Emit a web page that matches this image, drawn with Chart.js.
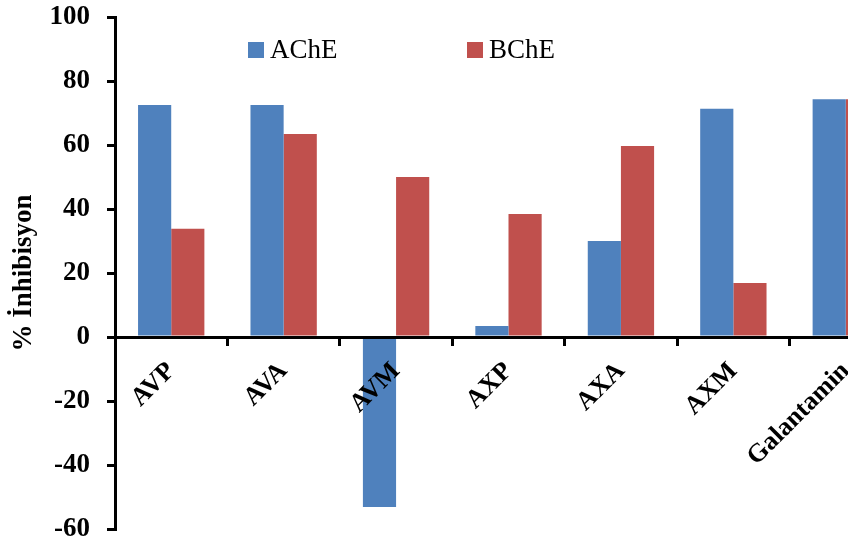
<!DOCTYPE html>
<html>
<head>
<meta charset="utf-8">
<script src="https://cdn.jsdelivr.net/npm/chart.js@4.4.0/dist/chart.umd.min.js"></script>
<style>
  html, body { margin: 0; padding: 0; background: #fff; overflow: hidden; }
  #wrap { width: 848px; height: 545px; overflow: hidden; position: relative; }
  #c { display: block; }
</style>
</head>
<body>
<div id="wrap"><canvas id="c" width="920" height="545"></canvas></div>
<script>
// Compounds and % inhibition of AChE / BChE
const categories = ['AVP', 'AVA', 'AVM', 'AXP', 'AXA', 'AXM', 'Galantamin'];
const acheValues = [72.5, 72.5, -53.1, 3.4, 30.0, 71.3, 74.3];
const bcheValues = [33.8, 63.4, 50.0, 38.4, 59.7, 16.9, 74.3];
const yTicks = [-60, -40, -20, 0, 20, 40, 60, 80, 100];
const yTitle = '% İnhibisyon';

const BLUE = '#4F81BD';
const RED = '#C0504D';
const SERIF = "'Liberation Serif', 'Times New Roman', serif";

// Legend drawn inside the plot area, two items on one row
const innerLegend = {
  id: 'innerLegend',
  afterDraw(chart) {
    const ctx = chart.ctx;
    const area = chart.chartArea;
    const offsets = [133, 352];
    ctx.save();
    ctx.font = '27px ' + SERIF;
    ctx.textBaseline = 'middle';
    ctx.textAlign = 'left';
    chart.data.datasets.forEach((ds, i) => {
      const x = area.left + offsets[i];
      const y = 50;
      ctx.fillStyle = ds.backgroundColor;
      ctx.fillRect(x, y - 8, 16, 16);
      ctx.fillStyle = '#000';
      ctx.fillText(ds.label, x + 22, y + 1);
    });
    ctx.restore();
  }
};

new Chart(document.getElementById('c'), {
  type: 'bar',
  data: {
    labels: categories,
    datasets: [
      { label: 'AChE', data: acheValues, backgroundColor: BLUE },
      { label: 'BChE', data: bcheValues, backgroundColor: RED }
    ]
  },
  options: {
    responsive: false,
    animation: false,
    layout: { padding: { left: 0, right: 18, top: 17, bottom: 16 } },
    datasets: { bar: { categoryPercentage: 0.59, barPercentage: 1.0 } },
    plugins: { legend: { display: false }, tooltip: { enabled: false } },
    scales: {
      x: {
        position: { y: 0 },
        grid: { display: true, offset: true, drawOnChartArea: false, drawTicks: true,
                tickLength: 7, color: '#000', lineWidth: 3, z: 1 },
        border: { display: true, color: '#000', width: 3, z: 1 },
        ticks: {
          z: 1,
          autoSkip: false, minRotation: 45, maxRotation: 45, padding: 12,
          color: '#000', font: { family: SERIF, size: 26, weight: 'bold' }
        }
      },
      y: {
        min: -60, max: 100,
        afterFit(scale) {
          scale.width = 115;
          scale.paddingTop = 0;
          scale.paddingBottom = 0;
        },
        afterBuildTicks(scale) { scale.ticks = yTicks.map(v => ({ value: v })); },
        grid: { display: true, drawOnChartArea: false, drawTicks: true,
                tickLength: 8, color: '#000', lineWidth: 3 },
        border: { display: true, color: '#000', width: 3 },
        ticks: {
          padding: 17, color: '#000',
          font: { family: SERIF, size: 27, weight: 'bold' }
        },
        title: {
          display: true, text: yTitle, color: '#000',
          padding: { top: 8, bottom: 0 },
          font: { family: SERIF, size: 27, weight: 'bold' }
        }
      }
    }
  },
  plugins: [innerLegend]
});
</script>
</body>
</html>
